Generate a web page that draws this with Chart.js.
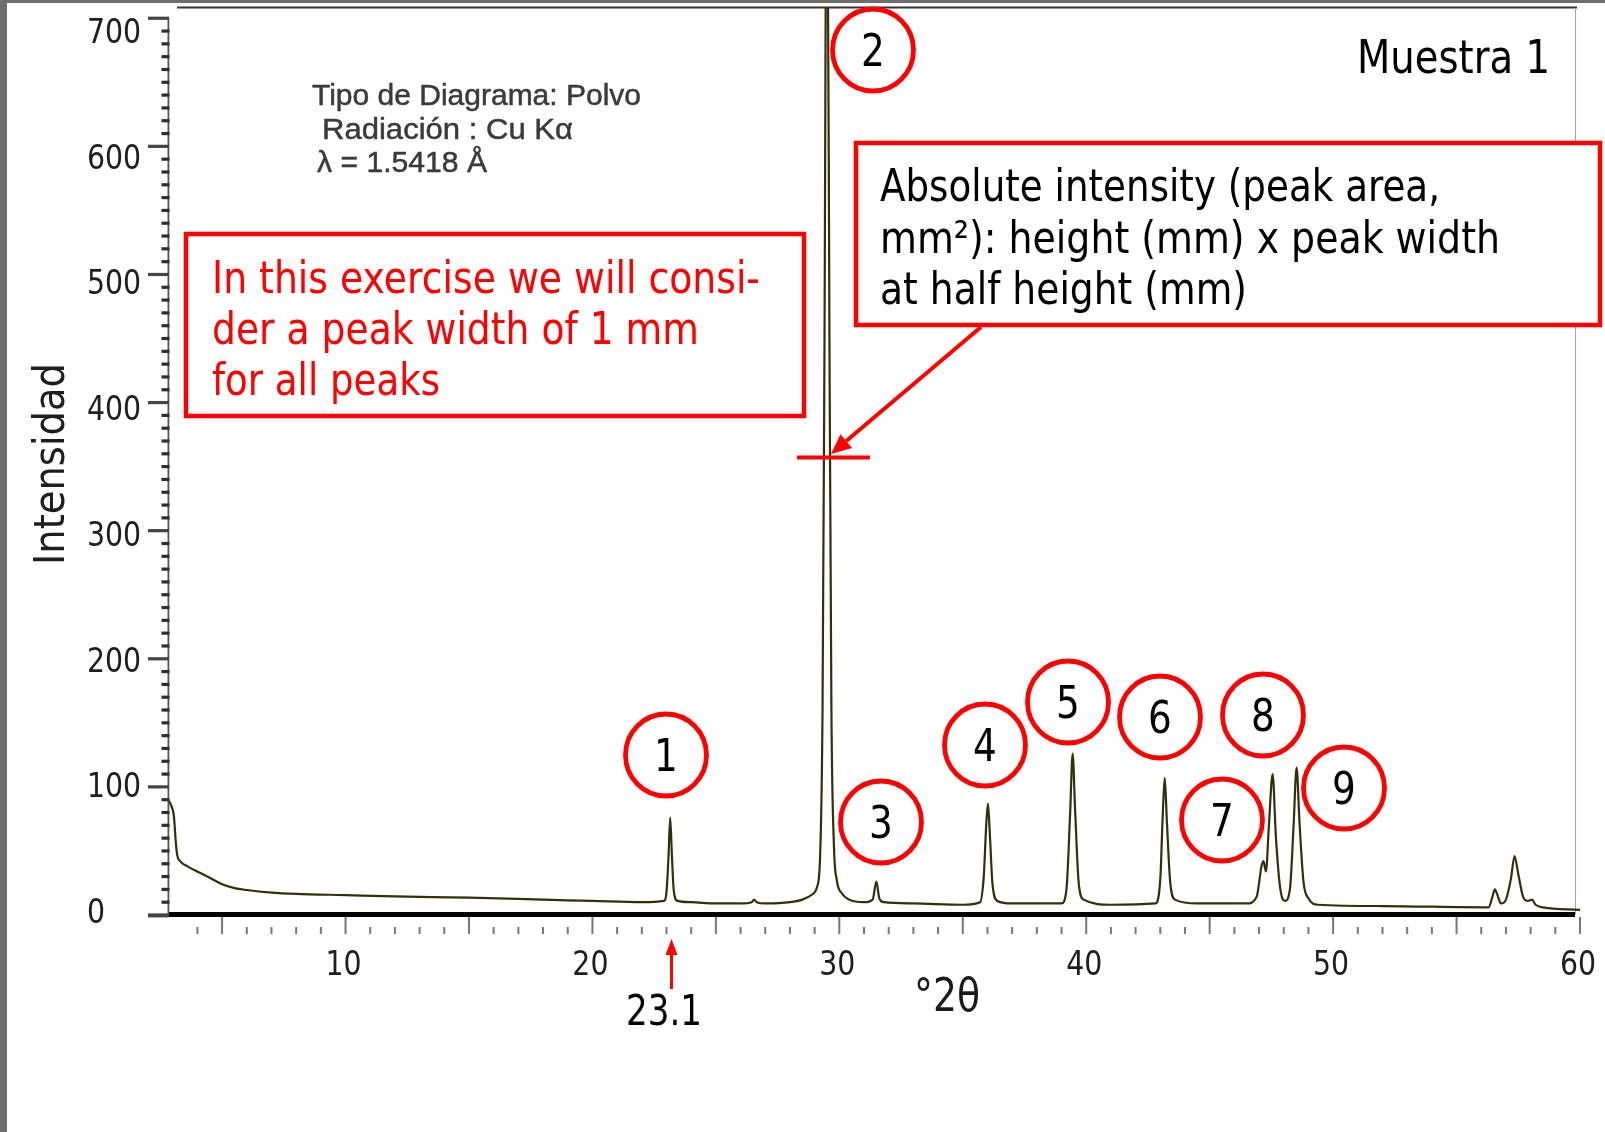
<!DOCTYPE html>
<html><head><meta charset="utf-8">
<script src="https://cdn.jsdelivr.net/npm/chart.js@4.4.1/dist/chart.umd.min.js"></script>
<style>html,body{margin:0;padding:0;background:#fff}canvas{display:block}</style>
</head><body>
<canvas id="c" width="1605" height="1132"></canvas>
<script>
const twoTheta = [2.85,2.95,3.05,3.12,3.18,3.3,3.6,4.1,4.5,5.0,5.5,6.0,7.0,8.0,10,12,15,18,20,22,
  22.9,23.0,23.08,23.15,23.22,23.3,23.45,24,25,26,26.45,26.55,26.65,27,28,28.5,28.9,29.1,29.22,29.32,29.4,29.47,29.53,29.6,29.68,29.78,29.9,30.1,30.4,
  31.0,31.35,31.5,31.62,31.8,33,35,35.7,35.85,35.95,36.02,36.1,36.2,36.4,37,
  39.0,39.2,39.35,39.45,39.55,39.7,39.9,41,42.8,43.0,43.1,43.18,43.27,43.4,43.6,44.5,
  46.5,46.9,47.1,47.18,47.28,47.4,47.55,47.68,47.85,48.05,48.25,48.4,48.52,48.64,48.8,49.0,49.4,52,
  56.3,56.45,56.55,56.65,56.8,57.0,57.2,57.35,57.5,57.7,57.9,58.05,58.2,58.5,60];
const intensity = [89,85,77,58,47,42,38,33,29,24,21,19.5,17.5,16.5,15.5,14.5,13.5,12,11,10,
  11,18,45,76,46,18,11,10,9,9,10,12,10,9,10,12,16,22,45,160,450,760,760,450,160,55,27,17,12,
  10,12,26,13,10,9,8,10,30,70,87,62,25,11,9,
  9,20,80,126,82,24,12,8,9,28,78,107,72,26,12,9,
  9,14,38,42,34,70,110,62,22,11,20,70,115,72,26,13,8,7,
  6,14,20,16,9,12,28,46,32,14,11,12,8,6,4];
const xTickLabels = [10,20,30,40,50,60];
const yTickLabels = [0,100,200,300,400,500,600,700];
const peakNumbers = ['1','2','3','4','5','6','7','8','9'];

// ---- layout (pixels) ----
const L = {
  circles: [[666,755],[873,50],[881,822],[985,745],[1068,702],[1160,717],[1222,820],[1263,715],[1344,788]],
  circleR: 40.5,
  yLabelLeft: 87, yLabelShiftBase: -4, yLabelShiftSlope: 0.0238,
  xLabelBaseline: 975, xLabelShift: -2
};
const TAH = '"DejaVu Sans", sans-serif';
const ARI = '"Liberation Sans", Arial, sans-serif';

function drawText(ctx, s, x, y, o){
  ctx.save();
  ctx.font = o.font;
  ctx.fillStyle = o.color || '#000';
  ctx.textBaseline = 'alphabetic';
  ctx.textAlign = 'left';
  const w = ctx.measureText(s).width;
  const sx = o.width ? o.width / w : (o.sx || 1);
  ctx.translate(x, y);
  if (o.rotate) ctx.rotate(o.rotate);
  ctx.scale(sx, 1);
  let dx = 0;
  if (o.align === 'center') dx = -w/2; else if (o.align === 'right') dx = -w;
  ctx.fillText(s, dx, 0);
  if (o.stroke){ ctx.strokeStyle = o.color; ctx.lineWidth = o.stroke; ctx.strokeText(s, dx, 0); }
  ctx.restore();
}
function arrow(ctx, x1, y1, x2, y2, lw, hl, hw, color){
  const a = Math.atan2(y2-y1, x2-x1);
  const bx = x2 - hl*Math.cos(a), by = y2 - hl*Math.sin(a);
  ctx.save();
  ctx.strokeStyle = color; ctx.fillStyle = color; ctx.lineWidth = lw;
  ctx.beginPath(); ctx.moveTo(x1,y1); ctx.lineTo(bx,by); ctx.stroke();
  ctx.beginPath();
  ctx.moveTo(x2,y2);
  ctx.lineTo(bx + hw/2*Math.sin(a), by - hw/2*Math.cos(a));
  ctx.lineTo(bx - hw/2*Math.sin(a), by + hw/2*Math.cos(a));
  ctx.closePath(); ctx.fill();
  ctx.restore();
}

const axesDeco = {
  id: 'axesDeco',
  beforeDraw(chart){
    const ctx = chart.ctx;
    ctx.save(); ctx.fillStyle = '#fff'; ctx.fillRect(0,0,chart.width,chart.height); ctx.restore();
  },
  beforeDatasetsDraw(chart){
    const ctx = chart.ctx, xs = chart.scales.x, ys = chart.scales.y, ca = chart.chartArea;
    ctx.save();
    // outer grey strips of the picture
    ctx.fillStyle = '#6e6e6e';
    ctx.fillRect(0,0,chart.width,3);
    ctx.fillRect(0,0,7,chart.height);
    // frame top and right
    ctx.fillStyle = '#333';
    ctx.fillRect(ca.left+8, ca.top-1.5, ca.right-ca.left-11, 2);
    ctx.fillStyle = '#b89a9a';
    ctx.fillRect(ca.right-5, ca.top, 1, ca.bottom-ca.top);
    // y axis line
    const y700 = ys.getPixelForValue(700), y0 = ys.getPixelForValue(0);
    ctx.fillStyle = '#555';
    ctx.fillRect(ca.left-1.5, y700, 1.8, y0-y700);
    // y minor ticks
    ctx.fillStyle = '#2e2e2e';
    for (let v = 10; v < 700; v += 10){
      if (v % 100 === 0) continue;
      const p = ys.getPixelForValue(v);
      ctx.fillRect(ca.left-7.5, p-1.6, 8, 3.2);
    }
    // y major ticks
    ctx.fillStyle = '#444';
    for (const v of yTickLabels){
      const p = ys.getPixelForValue(v);
      ctx.fillRect(ca.left-21, p-1.6, 21, v === 0 ? 4 : 3.2);
    }
    // x ticks
    for (let v = 4; v <= 60; v++){
      const p = xs.getPixelForValue(v);
      ctx.fillStyle = '#777';
      if (v % 5 === 0) ctx.fillRect(p-1, ca.bottom+2, 2, 17);
      else ctx.fillRect(p-1, ca.bottom+12, 2, 7);
    }
    // tick labels
    for (const v of yTickLabels){
      const p = ys.getPixelForValue(v) + L.yLabelShiftBase + L.yLabelShiftSlope*v;
      drawText(ctx, String(v), L.yLabelLeft, p + 12, {font: '33px '+TAH, color:'#1e1e1e', sx: 0.86});
    }
    for (const v of xTickLabels){
      const p = xs.getPixelForValue(v) + L.xLabelShift;
      drawText(ctx, String(v), p, L.xLabelBaseline, {font: '33px '+TAH, color:'#1e1e1e', sx: 0.86, align:'center'});
    }
    ctx.restore();
  },
  afterDatasetsDraw(chart){
    const ctx = chart.ctx, ca = chart.chartArea;
    ctx.save();
    ctx.fillStyle = '#000';
    ctx.fillRect(ca.left, ca.bottom-3, ca.right-ca.left-5, 5);
    ctx.restore();
  },
  afterDraw(chart){
    const ctx = chart.ctx;
    // axis titles
    drawText(ctx, 'Intensidad', 64, 565, {font: '42px '+TAH, color:'#1e1e1e', width: 202, rotate: -Math.PI/2});
    drawText(ctx, '°2θ', 914, 1011, {font: '46px '+TAH, color:'#1a1a1a', width: 66});
    // sample name
    drawText(ctx, 'Muestra 1', 1357, 73, {font: '46px '+TAH, color:'#000', width: 193});
    // instrument info
    drawText(ctx, 'Tipo de Diagrama: Polvo', 312, 105, {font: '30px '+ARI, color:'#3a3a3a', width: 329, stroke: 0.5});
    drawText(ctx, 'Radiación : Cu Kα', 322, 139, {font: '30px '+ARI, color:'#3a3a3a', width: 251, stroke: 0.5});
    drawText(ctx, 'λ = 1.5418 Å', 317, 172, {font: '30px '+ARI, color:'#3a3a3a', width: 170, stroke: 0.5});
    // boxes
    ctx.save();
    ctx.fillStyle = '#fff'; ctx.strokeStyle = '#ff0000'; ctx.lineWidth = 4.5;
    ctx.fillRect(186, 234, 618, 182); ctx.strokeRect(186, 234, 618, 182);
    ctx.fillRect(856, 143, 744, 182); ctx.strokeRect(856, 143, 744, 182);
    ctx.restore();
    drawText(ctx, 'In this exercise we will consi-', 212, 293, {font: '45px '+TAH, color:'#ff0000', width: 548});
    drawText(ctx, 'der a peak width of 1 mm', 212, 344, {font: '45px '+TAH, color:'#ff0000', width: 487});
    drawText(ctx, 'for all peaks', 212, 395, {font: '45px '+TAH, color:'#ff0000', width: 228});
    drawText(ctx, 'Absolute intensity (peak area,', 880, 201, {font: '45px '+TAH, color:'#000', width: 560});
    drawText(ctx, 'mm²): height (mm) x peak width', 880, 253, {font: '45px '+TAH, color:'#000', width: 620});
    drawText(ctx, 'at half height (mm)', 880, 304, {font: '45px '+TAH, color:'#000', width: 367});
    // half-height marker and arrow
    ctx.save();
    ctx.strokeStyle = '#ff0000'; ctx.lineWidth = 4;
    ctx.beginPath(); ctx.moveTo(797, 457.5); ctx.lineTo(870, 457.5); ctx.stroke();
    ctx.restore();
    arrow(ctx, 981, 327, 831, 454, 4, 20, 18, '#ff0000');
    // 23.1 pointer
    arrow(ctx, 671.5, 989, 671.5, 939, 3, 16, 12, '#ff0000');
    drawText(ctx, '23.1', 626, 1025, {font: '43px '+TAH, color:'#000', width: 76});
    // peak circles
    L.circles.forEach((c, i) => {
      ctx.save();
      ctx.strokeStyle = '#ff0000'; ctx.lineWidth = 4.8;
      ctx.beginPath(); ctx.ellipse(c[0], c[1], L.circleR, L.circleR+0.5, 0, 0, Math.PI*2); ctx.stroke();
      ctx.restore();
      drawText(ctx, peakNumbers[i], c[0], c[1]+16, {font: '44px '+TAH, color:'#000', sx: 0.85, align:'center'});
    });
  }
};

new Chart(document.getElementById('c'), {
  type: 'line',
  data: {
    datasets: [{
      data: twoTheta.map((x, i) => ({x, y: intensity[i]})),
      borderColor: '#30300a',
      borderWidth: 2.2,
      pointRadius: 0,
      cubicInterpolationMode: 'monotone',
      fill: false
    }]
  },
  options: {
    responsive: false,
    devicePixelRatio: 1,
    animation: false,
    events: [],
    layout: {padding: {left: 0, top: 8, right: 25, bottom: 0}},
    plugins: {legend: {display: false}, tooltip: {enabled: false}, title: {display: false}},
    scales: {
      x: {
        type: 'linear', min: 2.85, max: 60,
        grid: {display: false, drawTicks: false},
        border: {display: false},
        afterBuildTicks: s => { s.ticks = xTickLabels.map(v => ({value: v})); },
        afterFit: s => { s.height = 217; s.paddingLeft = 0; s.paddingRight = 0; },
        ticks: {display: false}
      },
      y: {
        type: 'linear', min: 0, max: 708,
        grid: {display: false, drawTicks: false},
        border: {display: false},
        afterBuildTicks: s => { s.ticks = yTickLabels.map(v => ({value: v})); },
        afterFit: s => { s.width = 169; s.paddingTop = 0; s.paddingBottom = 0; },
        ticks: {display: false}
      }
    }
  },
  plugins: [axesDeco]
});
</script>
</body></html>
